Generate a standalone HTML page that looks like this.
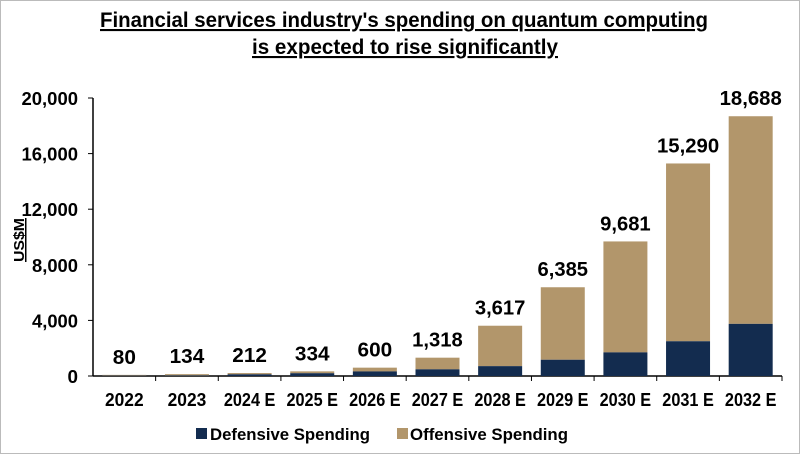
<!DOCTYPE html>
<html><head><meta charset="utf-8"><style>
body{margin:0;width:800px;height:454px;background:#fff;font-family:"Liberation Sans",Arial,sans-serif;overflow:hidden}
#frame{position:absolute;left:0;top:0;width:798px;height:452px;border:1px solid #bbb}
text{font-family:"Liberation Sans",Arial,sans-serif}
</style></head><body>
<div id="frame"></div>
<svg id="chart" width="800" height="454" style="position:absolute;left:0;top:0">
<text x="100" y="27" textLength="608" lengthAdjust="spacingAndGlyphs" font-size="21" font-weight="bold" text-decoration="underline">Financial services industry's spending on quantum computing</text>
<text x="252" y="54" textLength="306" lengthAdjust="spacingAndGlyphs" font-size="21" font-weight="bold" text-decoration="underline">is expected to rise significantly</text>
<text transform="translate(24,240) rotate(-90)" text-anchor="middle" font-size="15" font-weight="bold" text-decoration="underline" textLength="44" lengthAdjust="spacingAndGlyphs">US$M</text>
<g id="plot"></g>
<rect x="196" y="428" width="11" height="11" fill="#132c4f"/>
<text x="210" y="440" textLength="160" lengthAdjust="spacingAndGlyphs" font-size="17" font-weight="bold">Defensive Spending</text>
<rect x="397" y="428" width="11" height="11" fill="#b2966b"/>
<text x="410" y="440" textLength="158" lengthAdjust="spacingAndGlyphs" font-size="17" font-weight="bold">Offensive Spending</text>
</svg>
<script>
const categories=["2022","2023","2024E","2025E","2026E","2027E","2028E","2029E","2030E","2031E","2032E"];
const totals=[80,134,212,334,600,1318,3617,6385,9681,15290,18688];
const defensive=[30,40,120,200,330,480,710,1170,1700,2500,3750];
const totalLabels=["80","134","212","334","600","1,318","3,617","6,385","9,681","15,290","18,688"];
const yTicks=[0,4000,8000,12000,16000,20000];
const ns="http://www.w3.org/2000/svg";
const g=document.getElementById("plot");
const x0=93,x1=782,yBase=376,yTop=98,yMax=20000;
const step=(x1-x0)/categories.length;
const xc=i=>x0+step*(i+0.5);
const y=v=>yBase-(v/yMax)*(yBase-yTop);
function w(s){let t=0;for(const ch of s){t+=ch===","?4:ch===" "?3:ch==="E"?11:10.5;}return t;}
function el(t,a){const e=document.createElementNS(ns,t);for(const k in a)e.setAttribute(k,a[k]);g.appendChild(e);return e;}
let ax=el("line",{x1:x0,y1:yTop,x2:x0,y2:yBase,stroke:"#000","stroke-width":1.5});


let bx=el("line",{x1:x0,y1:yBase,x2:x1,y2:yBase,stroke:"#000","stroke-width":1.5});


yTicks.forEach(v=>{
 let t=el("line",{x1:x0-5,x2:x0,y1:y(v),y2:y(v),stroke:"#000"});
 
 
 const s=v.toLocaleString("en-US");
 let l=el("text",{x:78-w(s),y:y(v)+7,"font-size":18,"font-weight":"bold",textLength:w(s),lengthAdjust:"spacingAndGlyphs"});
 l.textContent=s;
 
 
});
const bw=44;
categories.forEach((c,i)=>{
 let r2=el("rect",{x:xc(i)-bw/2,y:y(totals[i]),width:bw,height:y(defensive[i])-y(totals[i]),fill:"#b2966b"});
 
 
 let r1=el("rect",{x:xc(i)-bw/2,y:y(defensive[i]),width:bw,height:yBase-y(defensive[i]),fill:"#132c4f"});
 
 
 let tk=el("line",{x1:x0+step*(i+1),x2:x0+step*(i+1),y1:yBase,y2:yBase+5,stroke:"#000"});
 
 
 const s=totalLabels[i];
 let vl=el("text",{x:xc(i)-w(s)*1.1/2,y:y(totals[i])-11,"font-size":20,"font-weight":"bold",textLength:w(s)*1.1,lengthAdjust:"spacingAndGlyphs"});
 vl.textContent=s;
 
 
 const xs=c.replace("E"," E");
 let xl=el("text",{x:xc(i)-w(xs)*0.92/2,y:406,"font-size":18,"font-weight":"bold",textLength:w(xs)*0.92,lengthAdjust:"spacingAndGlyphs"});
 xl.textContent=xs;
 
 
});
</script>
</body></html>
